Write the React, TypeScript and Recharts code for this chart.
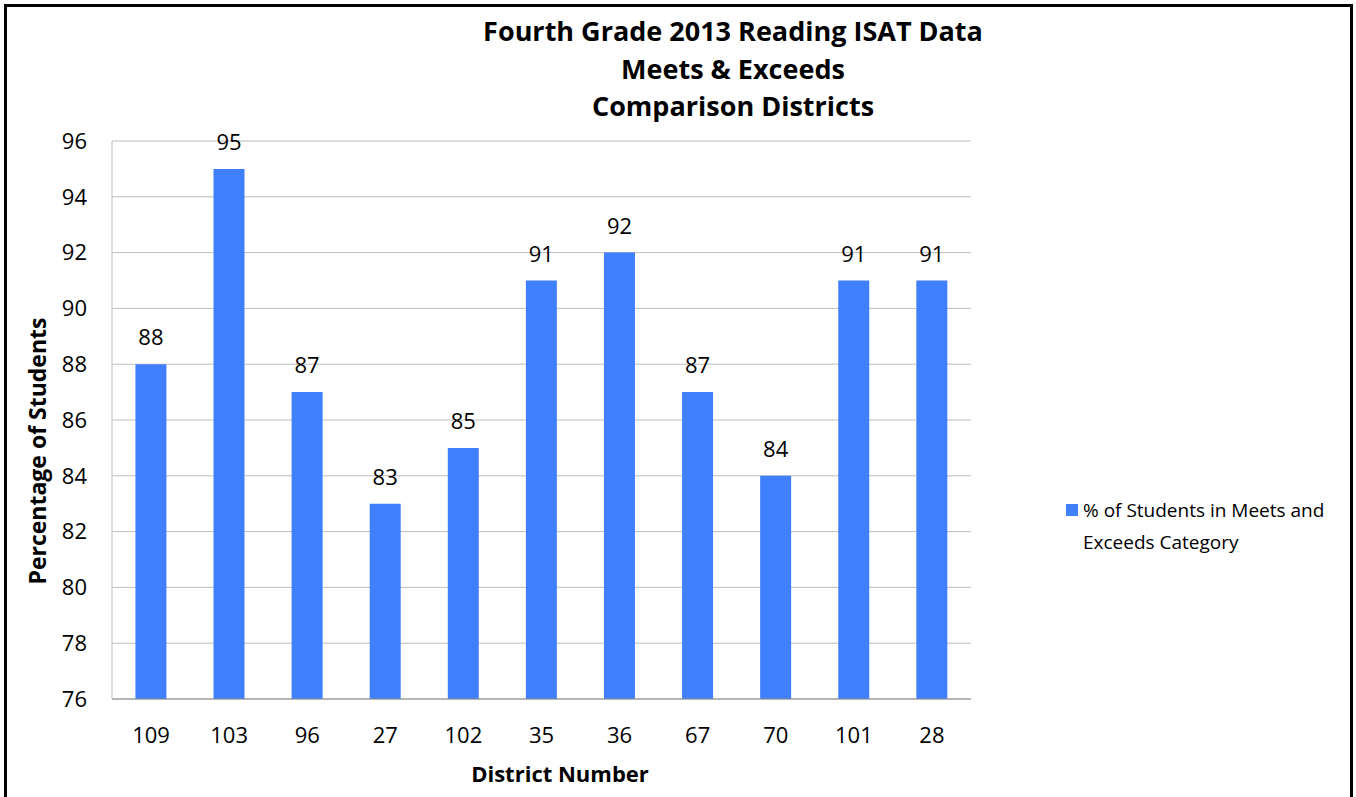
import { BarChart, Bar, XAxis, YAxis, CartesianGrid, LabelList, Legend } from "recharts";

// Fourth grade 2013 reading ISAT, meets & exceeds, by comparison district

const districts = ["109", "103", "96", "27", "102", "35", "36", "67", "70", "101", "28"];
const meetsExceeds = [88, 95, 87, 83, 85, 91, 92, 87, 84, 91, 91];
const yTicks = [76, 78, 80, 82, 84, 86, 88, 90, 92, 94, 96];
const titleLines = ["Fourth Grade 2013 Reading ISAT Data", "Meets & Exceeds", "Comparison Districts"];
const seriesName = "% of Students in Meets and Exceeds Category";
const xTitle = "District Number";
const yTitle = "Percentage of Students";

const data = districts.map((d, i) => ({ district: d, value: meetsExceeds[i] }));

const FONT = "'Open Sans', sans-serif";
const BLUE = "#4080ff";

function LegendBox(props: any) {
  const items = props.payload || [];
  return (
    <div style={{ fontFamily: FONT }}>
      {items.map((it: any) => (
        <div key={it.value} style={{ display: "flex", alignItems: "flex-start" }}>
          <div style={{ width: 12, height: 12, background: BLUE, marginTop: 10, marginRight: 5, flex: "none" }} />
          <div style={{ width: 250, fontSize: 19, lineHeight: "32px", color: "#000" }}>{it.value}</div>
        </div>
      ))}
    </div>
  );
}

export default function App() {
  return (
    <div
      style={{
        position: "absolute",
        left: 0,
        top: 0,
        width: 1356,
        height: 797,
        overflow: "hidden",
        background: "#fff",
        fontFamily: FONT,
      }}
    >
      <BarChart
        width={1356}
        height={797}
        data={data}
        margin={{ top: 141, right: 385, left: 52, bottom: 18 }}
        barCategoryGap="30%"
      >
        <CartesianGrid vertical={false} stroke="#bdbdbd" />
        <XAxis
          dataKey="district"
          height={80}
          tickLine={false}
          tickSize={0}
          tickMargin={28}
          axisLine={{ stroke: "#8c8c8c" }}
          tick={{ fill: "#000", fontSize: 22, fontFamily: FONT }}
        />
        <YAxis
          width={60}
          domain={[76, 96]}
          ticks={yTicks}
          allowDataOverflow
          tickLine={false}
          tickSize={0}
          tickMargin={25}
          axisLine={{ stroke: "#bdbdbd" }}
          tick={{ fill: "#000", fontSize: 22, fontFamily: FONT }}
        />
        <Legend
          layout="vertical"
          verticalAlign="middle"
          align="center"
          content={LegendBox}
          wrapperStyle={{ position: "absolute", left: 1066, top: 494, width: 280 }}
        />
        <Bar dataKey="value" name={seriesName} fill={BLUE} isAnimationActive={false}>
          <LabelList dataKey="value" position="top" offset={19} fill="#000" fontSize={22} fontFamily={FONT} />
        </Bar>
      </BarChart>

      <div
        style={{
          position: "absolute",
          left: 4,
          top: 4,
          width: 1349,
          height: 820,
          border: "3px solid #000",
          boxSizing: "border-box",
          pointerEvents: "none",
        }}
      />

      <div
        style={{
          position: "absolute",
          left: 383,
          top: 12,
          width: 700,
          textAlign: "center",
          fontWeight: 700,
          fontSize: 27,
          lineHeight: "37.5px",
          color: "#000",
        }}
      >
        {titleLines.map((t) => (
          <div key={t}>{t}</div>
        ))}
      </div>

      <div
        style={{
          position: "absolute",
          left: 360,
          top: 758,
          width: 400,
          textAlign: "center",
          fontWeight: 700,
          fontSize: 22,
          lineHeight: "30px",
          color: "#000",
        }}
      >
        {xTitle}
      </div>

      <div
        style={{
          position: "absolute",
          left: 37 - 200,
          top: 451 - 15,
          width: 400,
          height: 30,
          textAlign: "center",
          fontWeight: 700,
          fontSize: 23,
          lineHeight: "30px",
          color: "#000",
          transform: "rotate(-90deg)",
        }}
      >
        {yTitle}
      </div>
    </div>
  );
}
